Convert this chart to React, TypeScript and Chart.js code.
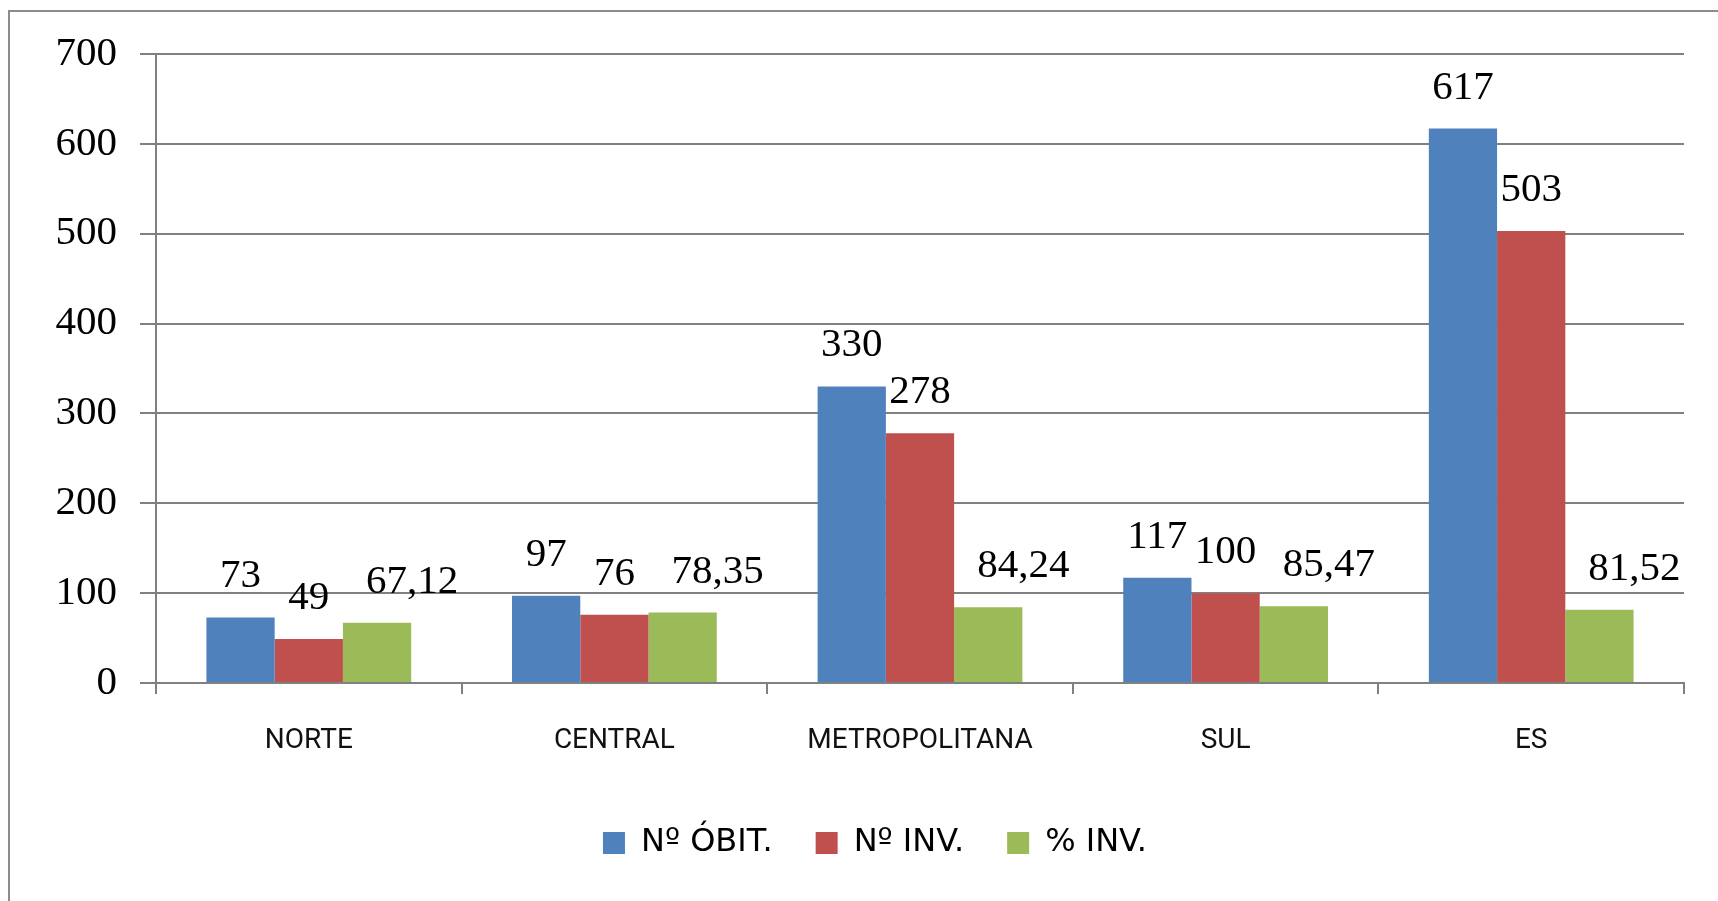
import React, { useEffect, useRef } from "react";
import { Chart, registerables } from "chart.js";

Chart.register(...registerables);

const categories = ["NORTE", "CENTRAL", "METROPOLITANA", "SUL", "ES"];
const obitos = [73, 97, 330, 117, 617];
const investigados = [49, 76, 278, 100, 503];
const percentInv = [67.12, 78.35, 84.24, 85.47, 81.52];
const seriesNames = ["Nº ÓBIT.", "Nº INV.", "% INV."];
const seriesColors = ["#4F81BD", "#C0504D", "#9BBB59"];
const yMin = 0;
const yMax = 700;
const yStep = 100;

const GRID = "#808080";
const LABEL_OFFSETS = [0, 0, 35];

const fmt = (v: number) =>
  Number.isInteger(v) ? String(v) : v.toFixed(2).replace(".", ",");

const bgBorderPlugin = {
  id: "bgBorder",
  beforeDraw(chart: any) {
    const ctx = chart.ctx;
    ctx.save();
    ctx.fillStyle = "#ffffff";
    ctx.fillRect(0, 0, chart.width, chart.height);
    ctx.strokeStyle = "#8c8c8c";
    ctx.lineWidth = 2;
    ctx.strokeRect(9, 11, chart.width + 100, chart.height + 100);
    ctx.restore();
  },
};

const valueLabelPlugin = {
  id: "valueLabels",
  afterDatasetsDraw(chart: any) {
    const ctx = chart.ctx;
    ctx.save();
    ctx.font = '41px "Liberation Serif"';
    ctx.fillStyle = "#000";
    ctx.textAlign = "center";
    ctx.textBaseline = "alphabetic";
    chart.data.datasets.forEach((ds: any, di: number) => {
      const meta = chart.getDatasetMeta(di);
      meta.data.forEach((el: any, i: number) => {
        ctx.fillText(fmt(ds.data[i]), el.x + LABEL_OFFSETS[di], el.y - 30);
      });
    });
    ctx.restore();
  },
};

const legendShiftPlugin = {
  id: "legendShift",
  afterLayout(chart: any) {
    const lg = chart.legend;
    if (lg) {
      lg.left += 33;
      lg.right += 33;
    }
  },
};

export default function App() {
  const ref = useRef<HTMLCanvasElement | null>(null);

  useEffect(() => {
    let chart: Chart | null = null;
    let cancelled = false;
    const make = () => {
      if (cancelled || !ref.current) return;
      chart = new Chart(ref.current, {
        type: "bar",
        data: {
          labels: categories,
          datasets: [obitos, investigados, percentInv].map((d, i) => ({
            label: seriesNames[i],
            data: d,
            backgroundColor: seriesColors[i],
            borderWidth: 0,
            barPercentage: 1,
            categoryPercentage: 0.67,
          })),
        },
        options: {
          animation: false,
          responsive: false,
          layout: { padding: { left: 0, right: 34, top: 54, bottom: 32 } },
          plugins: {
            tooltip: { enabled: false },
            legend: {
              position: "bottom",
              labels: {
                color: "#000",
                font: { family: "DejaVu Sans", size: 32 },
                boxWidth: 22,
                boxHeight: 22,
                padding: 43,
              },
            },
          },
          scales: {
            x: {
              grid: {
                offset: true,
                drawOnChartArea: false,
                drawTicks: true,
                tickLength: 11,
                color: GRID,
                lineWidth: 2,
              },
              border: { color: GRID, width: 2 },
              ticks: {
                color: "#111",
                font: { family: "Roboto", size: 28 },
                padding: 30,
                maxRotation: 0,
                autoSkip: false,
              },
              afterFit: (s: any) => {
                s.height = 101;
              },
            },
            y: {
              min: yMin,
              max: yMax,
              grid: {
                color: GRID,
                lineWidth: 2,
                tickLength: 16,
              },
              border: { color: GRID, width: 2 },
              ticks: {
                stepSize: yStep,
                color: "#000",
                font: { family: "Liberation Serif", size: 41 },
                padding: 23,
              },
              afterFit: (s: any) => {
                s.width = 156;
              },
            },
          },
        },
        plugins: [bgBorderPlugin, valueLabelPlugin, legendShiftPlugin],
      });
    };
    const fonts = (document as any).fonts;
    if (fonts && fonts.load) {
      Promise.all([
        fonts.load("28px Roboto"),
        fonts.load('32px "DejaVu Sans"'),
        fonts.load('41px "Liberation Serif"'),
      ])
        .catch(() => null)
        .then(make);
    } else {
      make();
    }
    return () => {
      cancelled = true;
      if (chart) chart.destroy();
    };
  }, []);

  return (
    <div
      style={{
        position: "fixed",
        left: 0,
        top: 0,
        width: "1718px",
        height: "901px",
        overflow: "hidden",
        background: "#fff",
      }}
    >
      <canvas ref={ref} width={1718} height={901} style={{ display: "block" }} />
    </div>
  );
}
